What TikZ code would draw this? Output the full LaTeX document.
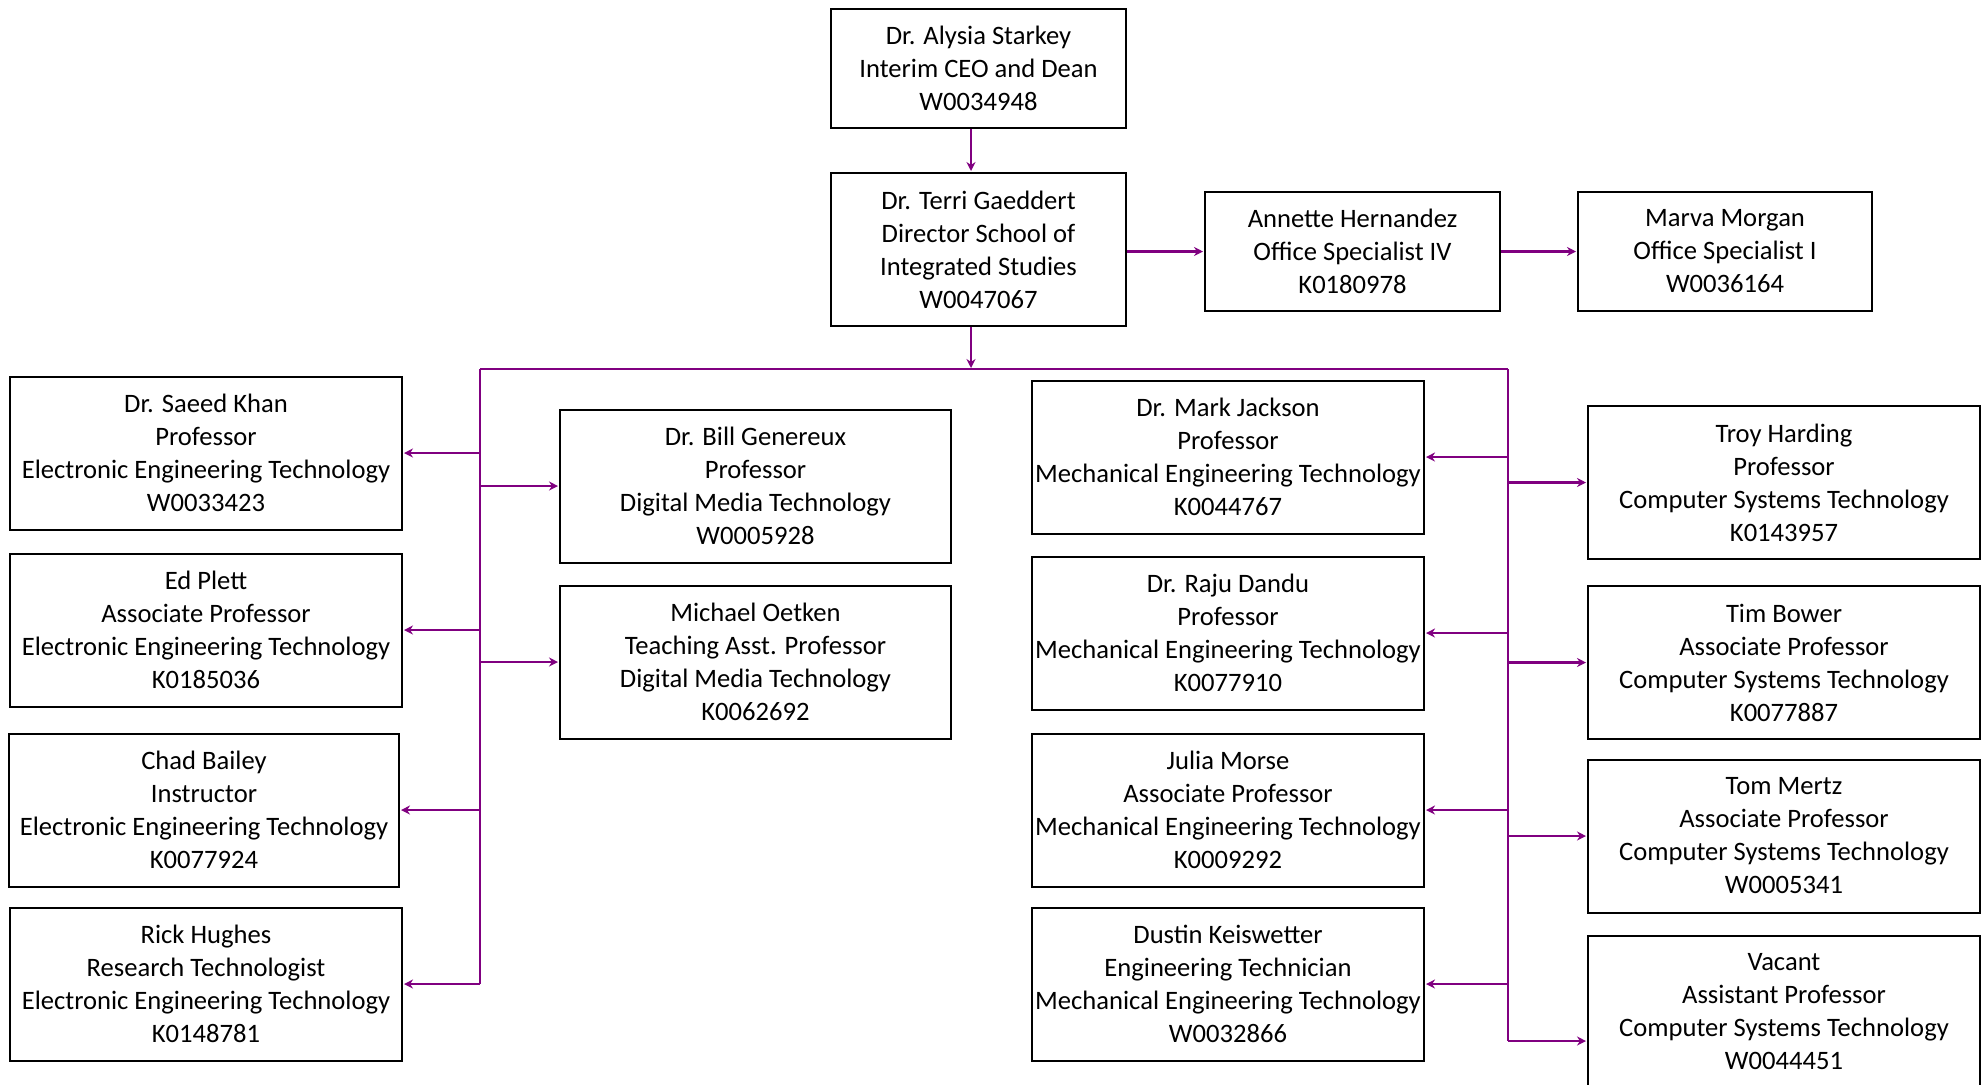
\documentclass[tikz,border=0pt]{standalone}
\usepackage{fontspec}
\setmainfont{Carlito}
\usetikzlibrary{arrows.meta}
\definecolor{conncol}{RGB}{128,0,128}
\tikzset{
  box/.style={draw=black, line width=1pt, fill=white, align=center, inner sep=0pt,
    font=\fontsize{13.3}{16.5}\selectfont, minimum width=196pt,
    execute at begin node={\rule{0pt}{14.5pt}}},
  box4/.style={box, minimum height=76.5pt},
  box3/.style={box, minimum height=59.5pt, minimum width=147.5pt},
  conn/.style={draw=conncol, line width=1.2pt, -{Stealth[length=4.5pt,width=4.5pt]}, shorten >=0.5pt},
  busline/.style={draw=conncol, line width=1.2pt}
}
\begin{document}
\begin{tikzpicture}[x=0.5pt,y=-0.5pt]
\useasboundingbox (0,0) rectangle (1981,1084);
% top
\node[box3] (starkey) at (978.5,68.5) {Dr. Alysia Starkey\\Interim CEO and Dean\\W0034948};
\node[box, minimum width=147.5pt, minimum height=76.5pt] (gaeddert) at (978.5,249.5) {Dr. Terri Gaeddert\\Director School of\\Integrated Studies\\W0047067};
\node[box3] (annette) at (1352.5,251.5) {Annette Hernandez\\Office Specialist IV\\K0180978};
\node[box3, minimum width=147pt] (marva) at (1725,251.5) {Marva Morgan\\Office Specialist I\\W0036164};
% left column
\node[box4] (khan) at (206,453) {Dr. Saeed Khan\\Professor\\Electronic Engineering Technology\\W0033423};
\node[box4] (plett) at (206,630) {Ed Plett\\Associate Professor\\Electronic Engineering Technology\\K0185036};
\node[box4, minimum width=195pt] (bailey) at (204,810) {Chad Bailey\\Instructor\\Electronic Engineering Technology\\K0077924};
\node[box4] (hughes) at (206,984) {Rick Hughes\\Research Technologist\\Electronic Engineering Technology\\K0148781};
% digital media
\node[box4, minimum width=195.5pt] (genereux) at (755.5,486) {Dr. Bill Genereux\\Professor\\Digital Media Technology\\W0005928};
\node[box4, minimum width=195.5pt] (oetken) at (755.5,662) {Michael Oetken\\Teaching Asst. Professor\\Digital Media Technology\\K0062692};
% mechanical
\node[box4] (jackson) at (1228,457) {Dr. Mark Jackson\\Professor\\Mechanical Engineering Technology\\K0044767};
\node[box4] (dandu) at (1228,633) {Dr. Raju Dandu\\Professor\\Mechanical Engineering Technology\\K0077910};
\node[box4] (morse) at (1228,810) {Julia Morse\\Associate Professor\\Mechanical Engineering Technology\\K0009292};
\node[box4] (keis) at (1228,984) {Dustin Keiswetter\\Engineering Technician\\Mechanical Engineering Technology\\W0032866};
% computer systems
\node[box4] (harding) at (1784,482.5) {Troy Harding\\Professor\\Computer Systems Technology\\K0143957};
\node[box4] (bower) at (1784,662.5) {Tim Bower\\Associate Professor\\Computer Systems Technology\\K0077887};
\node[box4] (mertz) at (1784,836) {Tom Mertz\\Associate Professor\\Computer Systems Technology\\W0005341};
\node[box4] (vacant) at (1784,1012) {Vacant\\Assistant Professor\\Computer Systems Technology\\W0044451};
% bus coordinates
\coordinate (bm) at (971,369);
\coordinate (bl) at (480,369);
\coordinate (br) at (1508,369);
\coordinate (blend) at (480,984);
\coordinate (brend) at (1508,1041);
% connectors
\draw[conn] (starkey.south -| bm) -- (gaeddert.north -| bm);
\draw[conn] (gaeddert.south -| bm) -- (bm);
\draw[conn] (gaeddert.east |- annette.west) -- (annette.west);
\draw[conn] (annette.east) -- (marva.west);
\draw[busline] (bl) -- (br);
\draw[busline] (bl) -- (blend);
\draw[busline] (br) -- (brend);
\draw[conn] (bl |- khan.east) -- (khan.east);
\draw[conn] (bl |- plett.east) -- (plett.east);
\draw[conn] (bl |- bailey.east) -- (bailey.east);
\draw[conn] (blend) -- (hughes.east);
\draw[conn] (bl |- genereux.west) -- (genereux.west);
\draw[conn] (bl |- oetken.west) -- (oetken.west);
\draw[conn] (br |- jackson.east) -- (jackson.east);
\draw[conn] (br |- dandu.east) -- (dandu.east);
\draw[conn] (br |- morse.east) -- (morse.east);
\draw[conn] (br |- keis.east) -- (keis.east);
\draw[conn] (br |- harding.west) -- (harding.west);
\draw[conn] (br |- bower.west) -- (bower.west);
\draw[conn] (br |- mertz.west) -- (mertz.west);
\draw[conn] (brend) -- (brend -| vacant.west);
\end{tikzpicture}
\end{document}
